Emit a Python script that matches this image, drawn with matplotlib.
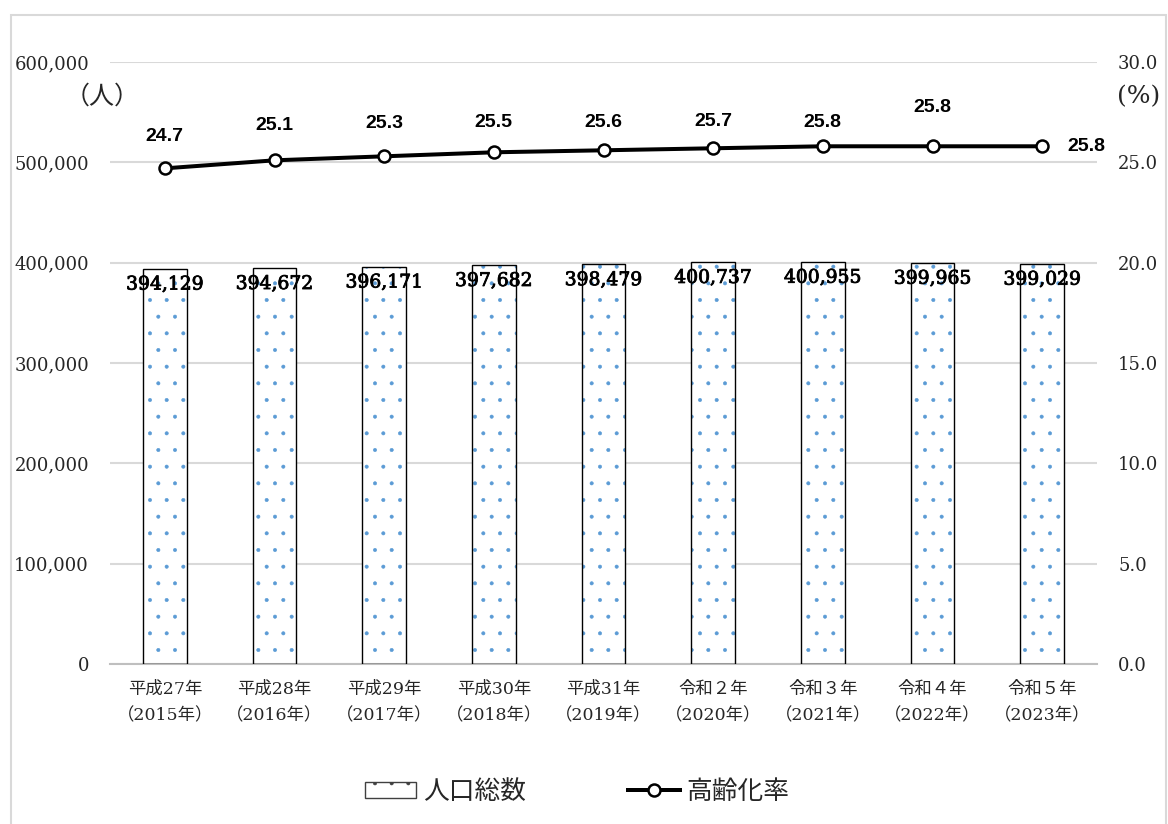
import matplotlib.pyplot as plt
import matplotlib.patheffects as pe
from matplotlib.patches import Rectangle, Patch
from matplotlib.lines import Line2D
from matplotlib.ticker import FuncFormatter

years = ['平成27年\n（2015年）', '平成28年\n（2016年）', '平成29年\n（2017年）',
         '平成30年\n（2018年）', '平成31年\n（2019年）', '令和２年\n（2020年）',
         '令和３年\n（2021年）', '令和４年\n（2022年）', '令和５年\n（2023年）']
population = [394129, 394672, 396171, 397682, 398479, 400737, 400955, 399965, 399029]
aging_rate = [24.7, 25.1, 25.3, 25.5, 25.6, 25.7, 25.8, 25.8, 25.8]

# label offsets (pixels) for the rate labels, as placed in the original
rate_label_dy = [32, 35, 33, 30, 28, 27, 24, 39, 0]

SERIF = ['DejaVu Serif', 'Noto Sans CJK JP']
SANS = ['Noto Sans CJK JP', 'DejaVu Sans']
TXT = '#262626'
GRID = '#d9d9d9'
px = 0.72  # points per pixel at dpi 100

plt.rcParams['hatch.linewidth'] = 0.4

fig = plt.figure(figsize=(11.68, 8.24), dpi=100)
ax = fig.add_axes([110 / 1168, 1 - 664 / 824, 987 / 1168, 602 / 824])
ax2 = ax.twinx()

# outer frame
fig.patches.append(Rectangle((11 / 1168, -0.05), 1155 / 1168, 1.05 - 15 / 824,
                             transform=fig.transFigure, fill=False,
                             edgecolor=GRID, lw=1.5))

x = list(range(len(years)))
ax.bar(x, population, width=0.4, color='white', edgecolor='#5b9bd5',
       hatch='.', lw=0, zorder=2)
ax.bar(x, population, width=0.4, color='none', edgecolor='black', lw=1, zorder=3)

for xi, v in zip(x, population):
    ax.annotate(f'{v:,}', (xi, v), xytext=(0, -16 * px), textcoords='offset points',
                ha='center', va='center', fontsize=13.5, family=SERIF, color='black',
                zorder=5, path_effects=[pe.withStroke(linewidth=0.6, foreground='black')])

ax.set_ylim(0, 600000)
ax.set_yticks(range(0, 600001, 100000))
ax.yaxis.set_major_formatter(FuncFormatter(lambda v, p: f'{int(v):,}'))
ax.set_xlim(-0.5, len(years) - 0.5)
ax.set_xticks(x)
ax.set_xticklabels(years, family=SERIF, fontsize=12.5, color=TXT, linespacing=1.75)
ax.grid(axis='y', color=GRID, lw=1.5, zorder=0)
ax.set_axisbelow(True)
for s in ax.spines.values():
    s.set_visible(False)
ax.spines['bottom'].set_visible(True)
ax.spines['bottom'].set_color('#bfbfbf')
ax.spines['bottom'].set_linewidth(1.5)
ax.tick_params(axis='y', length=0, pad=21 * px, labelsize=13, labelcolor=TXT)
ax.tick_params(axis='x', length=0, pad=17 * px)
for lab in ax.get_yticklabels():
    lab.set_family(SERIF)

ax2.plot(x, aging_rate, color='black', lw=4 * px, marker='o', markersize=12 * px,
         markerfacecolor='white', markeredgecolor='black', markeredgewidth=1.8,
         zorder=4)
for i, (xi, v) in enumerate(zip(x, aging_rate)):
    if i == len(x) - 1:
        ax2.annotate(f'{v:.1f}', (xi, v), xytext=(25 * px, 0), textcoords='offset points',
                     ha='left', va='center', fontsize=14, family='Liberation Sans',
                     weight='bold', color='black')
    else:
        ax2.annotate(f'{v:.1f}', (xi, v), xytext=(0, rate_label_dy[i] * px),
                     textcoords='offset points', ha='center', va='center',
                     fontsize=14, family='Liberation Sans', weight='bold',
                     color='black')
ax2.set_ylim(0, 30)
ax2.set_yticks(range(0, 31, 5))
ax2.yaxis.set_major_formatter(FuncFormatter(lambda v, p: f'{v:.1f}'))
ax2.tick_params(axis='y', length=0, pad=21 * px, labelsize=13, labelcolor=TXT)
for lab in ax2.get_yticklabels():
    lab.set_family(SERIF)
for s in ax2.spines.values():
    s.set_visible(False)

fig.text(102 / 1168, 1 - 97 / 824, '（人）', family=SANS, fontsize=18, color=TXT,
         ha='center', va='center')
fig.text(1160 / 1168, 1 - 97 / 824, '(%)', family=SERIF, fontsize=18, color=TXT,
         ha='right', va='center')

handles = [Patch(facecolor='white', edgecolor='#5b9bd5', hatch='.', lw=0),
           Line2D([], [], color='black', lw=4 * px, marker='o', markersize=12 * px,
                  markerfacecolor='white', markeredgecolor='black',
                  markeredgewidth=1.8)]
leg = fig.legend(handles, ['人口総数', '高齢化率'], loc='center',
                 bbox_to_anchor=(577 / 1168, 1 - 792 / 824), ncol=2, frameon=False,
                 prop={'family': SANS, 'size': 18.5}, handlelength=2.0,
                 handleheight=0.6, columnspacing=4.0, handletextpad=0.25)
for t in leg.get_texts():
    t.set_color(TXT)
leg.legend_handles[0].set_edgecolor('#404040')
leg.legend_handles[0].set_linewidth(1)

fig.savefig('out.png', dpi=100)
